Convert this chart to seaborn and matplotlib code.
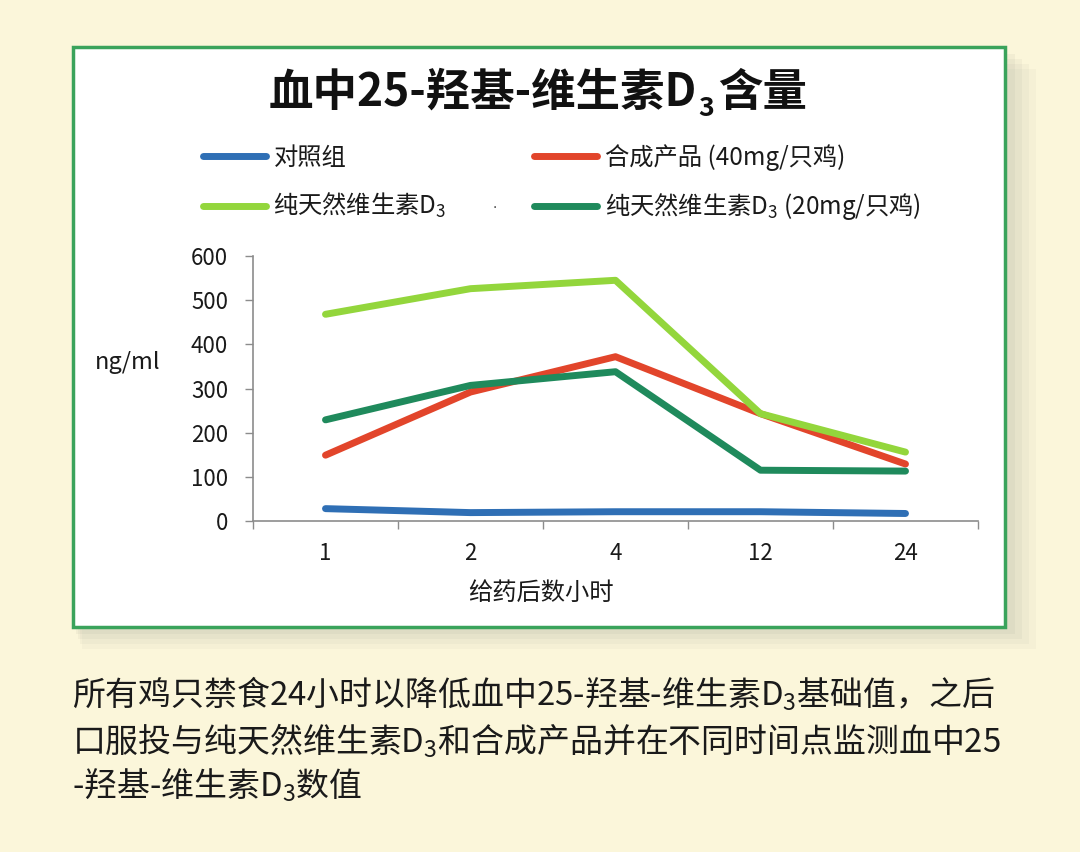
import numpy as np
import pandas as pd
import matplotlib
matplotlib.use("Agg")
import matplotlib.pyplot as plt
import seaborn as sns
from matplotlib.lines import Line2D
from matplotlib.patches import Rectangle

# ---------------- data ----------------
times = ["1", "2", "4", "12", "24"]
control = [28, 19, 21, 21, 17]
synthetic = [149, 292, 372, 243, 129]
natural = [468, 526, 545, 243, 156]
natural20 = [229, 307, 338, 115, 113]

series_keys = ["control", "synthetic", "natural20", "natural"]
series_vals = {"control": control, "synthetic": synthetic,
               "natural20": natural20, "natural": natural}
legend_labels = {"control": "对照组",
                 "synthetic": "合成产品 (40mg/只鸡)",
                 "natural": "纯天然维生素D$_3$",
                 "natural20": "纯天然维生素D$_3$ (20mg/只鸡)"}
palette = {"control": "#2f6fb5", "synthetic": "#e2452b",
           "natural": "#93d63c", "natural20": "#1f8a5c"}
yticks = [0, 100, 200, 300, 400, 500, 600]

title_parts = ["血中25-羟基-维生素D", "3", "含量"]
xlabel = "给药后数小时"
ylabel = "ng/ml"
caption = ["所有鸡只禁食24小时以降低血中25-羟基-维生素D$_3$基础值，之后",
           "口服投与纯天然维生素D$_3$和合成产品并在不同时间点监测血中25",
           "-羟基-维生素D$_3$数值"]

df = pd.DataFrame([(t, k, v) for k in series_keys
                   for t, v in zip(times, series_vals[k])],
                  columns=["time", "series", "value"])

# ---------------- style ----------------
sns.set_theme(style="white")
plt.rcParams["font.family"] = ["Noto Sans CJK SC", "DejaVu Sans"]
plt.rcParams["mathtext.fontset"] = "custom"
plt.rcParams["mathtext.rm"] = "Noto Sans CJK SC"
plt.rcParams["mathtext.it"] = "Noto Sans CJK SC"
plt.rcParams["mathtext.bf"] = "Noto Sans CJK SC:bold"

W, H = 1080, 852
fig = plt.figure(figsize=(W / 100, H / 100), dpi=100)
fig.patch.set_facecolor("#fbf6da")

def fx(px):
    return px / W

def fy(py):
    return 1 - py / H

# shadow
for i, a in enumerate([0.05, 0.06, 0.07, 0.08]):
    off = 22 - i * 5
    fig.add_artist(Rectangle((fx(73 + off * 0.4), fy(627 + off)),
                             fx(932 + off), (580) / H,
                             transform=fig.transFigure, facecolor="#8a8a80",
                             edgecolor="none", alpha=a, zorder=-6))
# white box with green border
fig.add_artist(Rectangle((fx(73), fy(627)), fx(932), 580 / H,
                         transform=fig.transFigure, facecolor="white",
                         edgecolor="#3aa35b", lw=2.5, zorder=-5))

ax = fig.add_axes([fx(253), fy(521), fx(978) - fx(253), (521 - 256) / H])
ax.patch.set_alpha(0)

sns.lineplot(data=df, x="time", y="value", hue="series",
             hue_order=series_keys, palette=palette, linewidth=5,
             sort=False, errorbar=None, legend=False, ax=ax,
             solid_capstyle="round")

ax.set_xlim(-0.5, len(times) - 0.5)
ax.set_ylim(0, 600)
ax.set_yticks(yticks)
ax.set_xticks(range(len(times)))
ax.set_xticklabels(times)
ax.set_xticks(np.arange(-0.5, len(times), 1.0), minor=True)
ax.set_xlabel("")
ax.set_ylabel("")
for s in ["top", "right"]:
    ax.spines[s].set_visible(False)
for s in ["left", "bottom"]:
    ax.spines[s].set_color("#8c8c8c")
    ax.spines[s].set_linewidth(1.2)
ax.tick_params(axis="y", which="major", left=True, length=6, width=1,
               color="#8c8c8c", labelsize=16, pad=12, labelcolor="#1a1a1a")
ax.tick_params(axis="x", which="major", bottom=False, length=0,
               labelsize=16, pad=15, labelcolor="#1a1a1a")
ax.tick_params(axis="x", which="minor", bottom=True, length=6, width=1,
               color="#8c8c8c", direction="out")

# legend (column-major fill)
order = ["control", "natural", "synthetic", "natural20"]
handles = [Line2D([], [], color=palette[k], lw=5, solid_capstyle="round")
           for k in order]
fig.legend(handles, [legend_labels[k] for k in order], ncol=2,
           loc="center left", bbox_to_anchor=(fx(203), fy(183)),
           frameon=False, fontsize=17.5, handlelength=2.6, handletextpad=0.3,
           columnspacing=3.6, labelspacing=0.85, borderpad=0,
           borderaxespad=0, labelcolor="#1a1a1a")
fig.text(fx(495), fy(208), "•", fontsize=6, color="#333333",
         ha="center", va="center")

# title assembled from pieces so that the subscript can sit low
renderer = fig.canvas.get_renderer()
tsize = 32
ty = fy(106)
t1 = fig.text(0, ty, title_parts[0], fontsize=tsize, fontweight="bold",
              ha="left", va="baseline", color="#111111")
t2 = fig.text(0, ty, title_parts[1], fontsize=tsize * 0.6, fontweight="bold",
              ha="left", va="baseline", color="#111111")
t3 = fig.text(0, ty, title_parts[2], fontsize=tsize, fontweight="bold",
              ha="left", va="baseline", color="#111111")
w1 = t1.get_window_extent(renderer).width
w2 = t2.get_window_extent(renderer).width
w3 = t3.get_window_extent(renderer).width
total = w1 + w2 + w3 + 5
x0 = 538 - total / 2
t1.set_x(fx(x0))
t2.set_x(fx(x0 + w1 + 1))
t2.set_y(fy(106 + 10))
t3.set_x(fx(x0 + w1 + w2 + 5))

fig.text(fx(128), fy(363), ylabel, fontsize=17, ha="center", va="center",
         color="#1a1a1a")
fig.text(fx(541), fy(593), xlabel, fontsize=17.5, ha="center", va="center",
         color="#1a1a1a")

for line, base in zip(caption, [706, 753, 797]):
    fig.text(fx(72), fy(base), line, fontsize=23.7, ha="left",
             va="baseline", color="#1a1a1a", family="Noto Sans CJK SC")

fig.savefig("out.png", dpi=100, facecolor=fig.get_facecolor())
